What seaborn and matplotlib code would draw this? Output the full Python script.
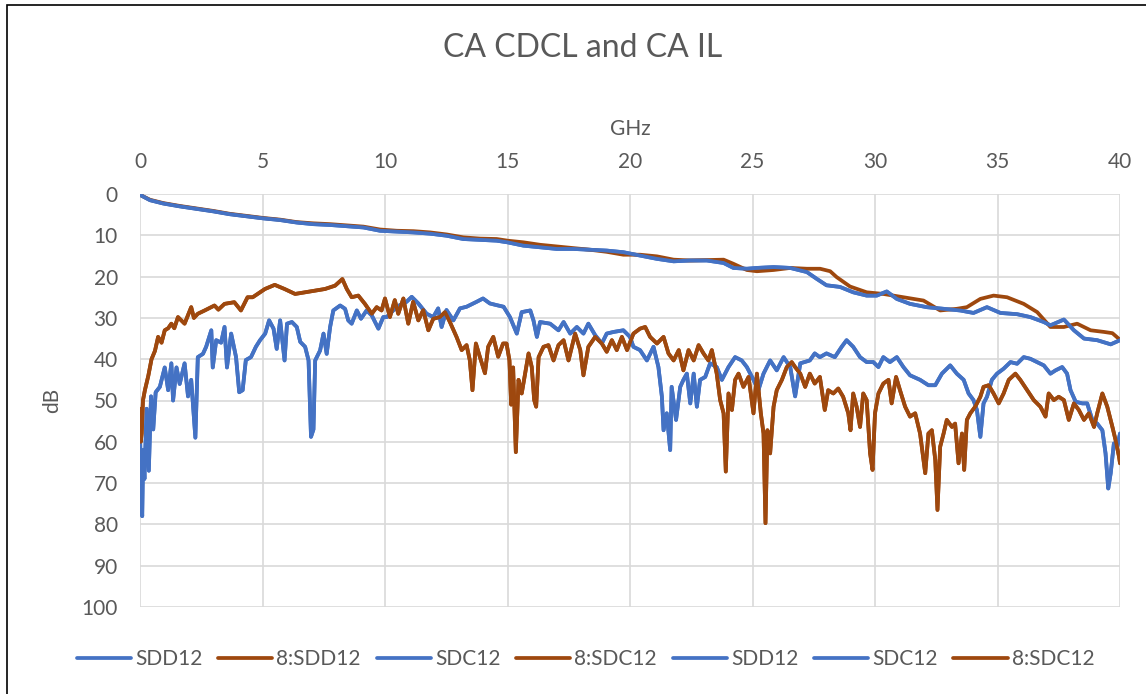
import matplotlib
matplotlib.use("Agg")
import matplotlib.pyplot as plt
from matplotlib.patches import Rectangle
import seaborn as sns
import pandas as pd


# SDD12 (insertion loss, blue)
sdd12_ghz = [0, 0.41, 0.95, 1.63, 2.31, 2.99, 3.67, 4.35, 5.03, 5.71, 6.39, 7.07, 7.76, 8.44,
             9.12, 9.8, 10.48, 11.16, 11.84, 12.52, 13.2, 13.88, 14.56, 15.0, 15.65, 16.33,
             17.01, 17.69, 18.37, 19.05, 19.73, 20.41, 21.1, 21.78, 22.46, 23.14, 23.82, 24.22,
             24.77, 25.18, 25.86, 26.54, 27.22, 27.61, 28.02, 28.57, 29.11, 29.66, 30.07, 30.48,
             30.89, 31.43, 32.11, 32.8, 33.48, 34.02, 34.57, 35.12, 35.8, 36.34, 36.89, 37.16,
             37.71, 38.12, 38.53, 39.07, 39.62, 40.0]
sdd12_db = [0.2, 1.5, 2.3, 3.0, 3.6, 4.2, 4.9, 5.4, 5.9, 6.3, 6.9, 7.3, 7.5, 7.8,
            8.1, 8.9, 9.1, 9.3, 9.6, 10.1, 10.9, 11.1, 11.3, 11.7, 12.5, 12.9,
            13.3, 13.3, 13.5, 13.7, 14.1, 14.9, 15.7, 16.3, 16.1, 16.1, 16.7, 17.9,
            18.1, 17.9, 17.7, 17.9, 18.9, 20.5, 22.1, 22.5, 23.8, 24.6, 24.6, 23.6,
            25.4, 26.6, 27.4, 27.8, 28.2, 28.8, 27.4, 28.8, 29.1, 29.8, 31.0, 31.8,
            30.4, 33.0, 35.0, 35.4, 36.4, 35.4]

# 8:SDD12 (brown)
sdd12_8_ghz = [0, 0.41, 0.95, 1.63, 2.31, 2.99, 3.67, 4.35, 5.03, 5.71, 6.39, 7.07, 7.76, 8.44,
               9.12, 9.8, 10.48, 11.16, 11.84, 12.52, 13.2, 13.88, 14.56, 15.0, 15.65, 16.33,
               17.01, 17.69, 18.37, 19.05, 19.73, 20.41, 21.1, 21.78, 22.46, 23.14, 23.82, 24.22,
               24.77, 25.18, 25.86, 26.54, 27.22, 27.76, 28.17, 28.43, 28.98, 29.66, 30.34, 31.16,
               31.98, 32.66, 33.34, 33.75, 34.3, 34.84, 35.39, 36.07, 36.62, 37.16, 37.71, 38.25,
               38.8, 39.35, 39.69, 40.0]
sdd12_8_db = [0.2, 1.4, 2.2, 2.9, 3.5, 4.1, 4.8, 5.3, 5.8, 6.2, 6.8, 7.1, 7.3, 7.6,
              7.9, 8.6, 8.9, 9.0, 9.3, 9.8, 10.5, 10.8, 10.9, 11.3, 11.7, 12.3,
              12.7, 13.1, 13.5, 14.0, 14.7, 14.7, 15.1, 15.9, 16.1, 16.0, 15.9, 16.9,
              18.4, 18.7, 18.4, 17.9, 18.1, 18.1, 18.7, 20.1, 22.4, 23.8, 24.2, 25.0,
              25.8, 28.2, 27.8, 27.4, 25.4, 24.6, 25.0, 26.6, 28.6, 32.2, 32.2, 31.4,
              33.0, 33.4, 33.7, 35.3]

# SDC12 (mode conversion, blue)
sdc12_ghz = [0.0, 0.03, 0.09, 0.13, 0.18, 0.27, 0.36, 0.45, 0.54, 0.64, 0.81, 1.01, 1.15, 1.28,
             1.35, 1.49, 1.62, 1.82, 1.96, 2.09, 2.26, 2.36, 2.57, 2.7, 2.91, 2.97, 3.11, 3.31,
             3.45, 3.55, 3.72, 3.92, 4.05, 4.19, 4.32, 4.53, 4.73, 4.9, 5.11, 5.27, 5.45, 5.58,
             5.72, 5.9, 6.0, 6.2, 6.4, 6.54, 6.74, 6.88, 6.98, 7.08, 7.15, 7.35, 7.49, 7.62,
             7.76, 7.89, 8.17, 8.37, 8.5, 8.64, 8.85, 9.02, 9.25, 9.46, 9.73, 9.93, 10.07, 10.48,
             10.88, 11.09, 11.36, 11.7, 11.97, 12.17, 12.31, 12.51, 12.79, 13.06, 13.33, 13.74,
             14.0, 14.28, 14.55, 14.84, 15.1, 15.38, 15.58, 15.93, 16.06, 16.2, 16.33, 16.74,
             17.08, 17.29, 17.56, 17.83, 18.1, 18.3, 18.58, 18.85, 19.05, 19.33, 19.73, 20.0,
             20.14, 20.41, 20.69, 20.96, 21.16, 21.3, 21.37, 21.5, 21.64, 21.7, 21.88, 22.05,
             22.18, 22.32, 22.46, 22.6, 22.73, 22.86, 23.07, 23.27, 23.54, 23.75, 24.02, 24.29,
             24.56, 24.77, 25.04, 25.24, 25.45, 25.72, 25.99, 26.27, 26.54, 26.74, 26.95, 27.34,
             27.54, 27.75, 28.02, 28.36, 28.64, 28.84, 29.11, 29.39, 29.66, 29.93, 30.14, 30.34,
             30.61, 30.89, 31.16, 31.43, 31.84, 32.18, 32.46, 32.73, 33.07, 33.34, 33.62, 33.82,
             34.02, 34.16, 34.3, 34.43, 34.57, 34.77, 34.98, 35.25, 35.53, 35.8, 36.07, 36.34,
             36.62, 36.89, 37.16, 37.37, 37.64, 37.84, 37.98, 38.19, 38.46, 38.66, 38.87, 39.07,
             39.28, 39.41, 39.52, 39.62, 39.75, 39.89, 40.0]
sdc12_db = [58, 66, 78, 62, 69, 52, 67, 49, 57, 48, 46.7, 42, 47.5, 41,
            50, 42, 46, 41, 49, 45, 59, 39.5, 38.7, 37, 33, 42, 35.4, 36,
            32.2, 42, 33.8, 39.5, 48, 47.5, 40.2, 39.5, 37, 35.4, 33.8, 30.6, 32.6, 37.5,
            30.6, 40.3, 31.4, 31, 32.2, 35.8, 37, 40.3, 58.8, 57, 40.3, 37.9, 33.8, 38.7,
            32.2, 28.2, 27, 27.8, 30.6, 31.4, 28.2, 30.2, 28.2, 29.4, 32.6, 29.8, 29.8, 27.3,
            26.1, 24.9, 26.5, 29, 29.8, 27.7, 32.2, 28.1, 30.6, 27.7, 27.3, 26.1,
            25.3, 26.5, 26.9, 27.3, 29.8, 33.8, 28.6, 28.2, 30.6, 34.6, 31, 31.4,
            33, 31, 33.8, 32.2, 33.8, 31.4, 34.2, 36.2, 33.8, 33.4, 33, 34.6,
            37, 37.8, 40.3, 37, 41.9, 49, 57.2, 53.1, 62, 46.7, 54.7, 46.7,
            45, 43.5, 50.7, 43.5, 51.5, 45, 44.3, 41, 41.9, 45, 41.9, 39.5,
            40.3, 41.9, 45, 47.5, 43.5, 40.3, 42.7, 39.5, 41.9, 49, 41, 40.3,
            38.6, 39.5, 38.6, 39.5, 37, 35.4, 37, 39.5, 40.7, 40.7, 41.9, 39.5,
            40.7, 39.5, 41.9, 43.9, 45, 46.3, 46.3, 43.5, 41.5, 43.5, 45, 48.3,
            49.9, 52.3, 58.8, 50.7, 49.1, 45, 43.5, 42.3, 40.7, 41.1, 39.5, 39.9,
            40.7, 41.5, 43.5, 42.7, 41.9, 43.5, 47.5, 50.3, 50.7, 50.7, 54.7, 55.6,
            57.2, 62.8, 71.3, 67.6, 60.4, 61.2, 58]

# 8:SDC12 (brown)
sdc12_8_ghz = [0.0, 0.03, 0.07, 0.12, 0.2, 0.34, 0.47, 0.61, 0.74, 0.88, 1.01, 1.15, 1.28, 1.4,
               1.55, 1.82, 2.09, 2.2, 2.36, 2.64, 3.04, 3.2, 3.45, 3.85, 4.12, 4.39, 4.6, 4.8,
               5.1, 5.5, 5.9, 6.33, 6.74, 7.15, 7.55, 7.96, 8.26, 8.44, 8.64, 8.91, 9.18, 9.46,
               9.66, 9.86, 10.0, 10.2, 10.4, 10.54, 10.75, 10.95, 11.15, 11.36, 11.56, 11.77,
               11.97, 12.24, 12.45, 12.65, 12.92, 13.13, 13.33, 13.46, 13.57, 13.71, 13.87, 14.08,
               14.21, 14.42, 14.62, 14.82, 14.96, 15.08, 15.15, 15.23, 15.34, 15.45, 15.58, 15.72,
               15.86, 15.99, 16.09, 16.17, 16.27, 16.47, 16.67, 16.88, 17.08, 17.29, 17.49, 17.76,
               17.97, 18.1, 18.3, 18.58, 18.85, 19.05, 19.26, 19.46, 19.67, 19.88, 20.14, 20.41,
               20.62, 20.82, 21.1, 21.37, 21.57, 21.78, 21.99, 22.18, 22.39, 22.6, 22.8, 23.0,
               23.2, 23.34, 23.54, 23.68, 23.82, 23.91, 24.02, 24.16, 24.29, 24.43, 24.63, 24.84,
               25.04, 25.18, 25.34, 25.45, 25.53, 25.61, 25.72, 25.86, 25.99, 26.2, 26.4, 26.6,
               26.74, 26.95, 27.15, 27.34, 27.54, 27.75, 27.95, 28.09, 28.3, 28.5, 28.7, 28.91,
               29.0, 29.11, 29.25, 29.39, 29.52, 29.66, 29.8, 29.9, 30.0, 30.14, 30.34, 30.55,
               30.68, 30.86, 31.02, 31.23, 31.43, 31.64, 31.84, 32.05, 32.18, 32.32, 32.46, 32.55,
               32.66, 32.8, 32.93, 33.14, 33.27, 33.41, 33.55, 33.64, 33.75, 33.89, 34.09, 34.3,
               34.43, 34.64, 34.84, 35.05, 35.25, 35.46, 35.73, 35.93, 36.21, 36.48, 36.75, 36.96,
               37.09, 37.3, 37.5, 37.71, 37.91, 38.12, 38.32, 38.53, 38.73, 38.94, 39.07, 39.28,
               39.48, 39.69, 39.82, 39.96, 40.0]
sdc12_8_db = [52, 60, 58, 50, 47.5, 44, 40, 38, 34.6, 36, 33, 32.5, 31.4, 32.5,
              29.8, 31.4, 27.4, 30, 29, 28.2, 27, 28, 26.6, 26.2, 28.2, 25, 25, 24.2,
              23, 22, 23, 24.2, 23.8, 23.4, 23, 22.2, 20.6, 23, 25, 24.6, 26.6, 29,
              27.4, 28.2, 25.3, 29.8, 25.7, 29, 25.3, 31.4, 26.1, 30.6, 28.1, 33,
              30.2, 29.8, 28.6, 31, 34.6, 37.8, 36.6, 40.2, 47.5, 36.2, 39.4, 43.4,
              37, 34.6, 39.4, 36.2, 36.2, 40.3, 51, 42, 62.5, 45, 48.3, 43.5,
              38.6, 41.9, 49.9, 51.5, 39.5, 37, 36.6, 40.3, 36.6, 35.4, 40.3, 33.8,
              37.8, 43.9, 37, 34.6, 36.2, 38.2, 35.4, 37.8, 34.6, 37.8, 33.8, 32.6,
              32.2, 34.6, 36.2, 34.6, 38.6, 40.3, 37.8, 42.7, 37.8, 40.3, 36.6, 38.6,
              40.3, 37.8, 43.5, 49.9, 53.1, 67.2, 48.3, 52.3, 45, 43.5, 46.7, 44.3,
              53.1, 43.5, 53.1, 58, 79.7, 57.2, 62.8, 51.5, 47.5, 45, 41.9, 40.7,
              41.9, 43.5, 46.7, 43.5, 45.9, 44.3, 52.3, 47.5, 48.3, 47.1, 49.1, 53.1,
              57.2, 48.3, 51.5, 56.4, 48.3, 49.9, 62.8, 66.8, 53.1, 48.3, 45.9, 45,
              50.7, 44.3, 47.5, 51.5, 53.9, 53.1, 58, 67.6, 58, 57.2, 64.4, 76.5,
              61.2, 58, 54.7, 56.4, 55.6, 65.2, 58, 66.8, 54.7, 53.1, 51.5, 49.1,
              46.7, 46.3, 48.3, 50.7, 48.3, 45, 43.5, 45, 47.5, 49.9, 51.5, 53.9,
              48.3, 49.9, 49.1, 49.9, 54.7, 50.7, 52.3, 54.7, 53.1, 56.4, 53.1, 48.3,
              51.5, 56.4, 59.6, 63.6, 65.2]

BLUE = "#4472C4"
BROWN = "#9E480E"
GREY = "#595959"

series = {
    "SDD12": (sdd12_ghz, sdd12_db),
    "8:SDD12": (sdd12_8_ghz, sdd12_8_db),
    "SDC12": (sdc12_ghz, sdc12_db),
    "8:SDC12": (sdc12_8_ghz, sdc12_8_db),
}
# legend order as in the workbook (later copies overlay the first ones)
legend_order = ["SDD12", "8:SDD12", "SDC12", "8:SDC12", "SDD12", "SDC12", "8:SDC12"]
colors = {"SDD12": BLUE, "8:SDD12": BROWN, "SDC12": BLUE, "8:SDC12": BROWN}

sns.set_style("white")
plt.rcParams["font.family"] = ["Lato", "DejaVu Sans"]

fig = plt.figure(figsize=(11.46, 6.94), dpi=100)
ax = fig.add_axes([140 / 1146, 87 / 694, 980 / 1146, 413 / 694])

for name in legend_order:
    x, y = series[name]
    df = pd.DataFrame({"GHz": x, "dB": y})
    sns.lineplot(data=df, x="GHz", y="dB", ax=ax, color=colors[name],
                 linewidth=2.7, label=name, estimator=None, sort=False)

ax.set_xlim(0, 40)
ax.set_ylim(100, 0)
ax.set_xticks(range(0, 41, 5))
ax.set_yticks(range(0, 101, 10))
ax.xaxis.tick_top()
ax.xaxis.set_label_position("top")
ax.grid(True, color="#D9D9D9", linewidth=1.2)
ax.set_axisbelow(True)
for s in ax.spines.values():
    s.set_visible(False)
ax.tick_params(axis="both", length=0, labelsize=15, labelcolor=GREY)
ax.tick_params(axis="x", pad=16)
ax.tick_params(axis="y", pad=16)
ax.set_xlabel("GHz", fontsize=15, color=GREY, labelpad=12)
ax.set_ylabel("dB", fontsize=15, color=GREY, labelpad=14)

fig.text(0.508, 0.931, "CA CDCL and CA IL", ha="center", va="center",
         fontsize=23, color=GREY)

handles, labels = ax.get_legend_handles_labels()
ax.get_legend().remove()
fig.legend(handles, labels, loc="center", bbox_to_anchor=(0.511, 0.05), ncol=7,
           frameon=False, fontsize=15, labelcolor=GREY, handlelength=2.6,
           handletextpad=0.2, columnspacing=0.75)

fig.patches.append(Rectangle((7 / 1146, -0.5), 2, 0.5 + 1 - 5 / 694, fill=False,
                             edgecolor="black", linewidth=1.2,
                             transform=fig.transFigure, figure=fig))

fig.savefig("out.png", dpi=100)
